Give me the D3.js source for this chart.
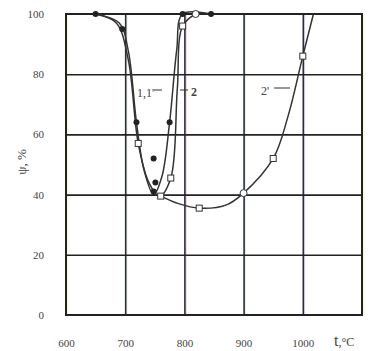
<!DOCTYPE html>
<html>
<head>
<meta charset="utf-8">
<script src="https://cdn.jsdelivr.net/npm/d3@7"></script>
<style>
  body { margin: 0; background: #fff; }
  svg text { font-family: "Liberation Serif", serif; fill: #444; }
</style>
</head>
<body>
<div id="chart"></div>
<script>
// tick values
var xTicks = [600, 700, 800, 900, 1000];
var yTicks = [0, 20, 40, 60, 80, 100];

// curve 1,1' (filled circles)
var line1 = [[650, 100], [690, 97], [705, 88], [719, 64], [732, 48], [748, 40], [762, 46], [775, 64], [787, 88], [797, 100], [845, 100]];
var dots1 = [[650, 100], [695, 95], [719, 64], [748, 52], [751, 44], [748, 41], [775, 64], [797, 100], [845, 100]];

// curve 2 (open squares)
var line2 = [[650, 100], [685, 97], [705, 85], [722, 57], [740, 44], [758, 39.5], [777, 45.5], [788, 75], [797, 96], [819, 100]];
var sq2 = [[722, 57], [760, 39.5], [777, 45.5], [797, 96]];
var ring2 = [[819, 100]];

// curve 2'
var line2p = [[755, 40], [790, 37], [825, 35.5], [870, 36.5], [900, 40.5], [950, 52], [975, 66], [1000, 86], [1018, 100]];
var sq2p = [[825, 35.5], [950, 52], [1000, 86]];
var ring2p = [[900, 40.5]];

var svgWidth = 376, svgHeight = 351;
var plot = {left: 66, right: 362, top: 14, bottom: 315};

var svg = d3.select("#chart").append("svg")
  .attr("width", svgWidth)
  .attr("height", svgHeight);

var x = d3.scaleLinear().domain([600, 1100]).range([plot.left, plot.right]);
var y = d3.scaleLinear().domain([0, 100]).range([plot.bottom, plot.top]);

// faint scan fringes beside the vertical lines
var fringe = ["#e8d84a", "#9ad85a", "#d85a6a", "#7ad8c8", "#6a7ae8"];
svg.selectAll(".fringe")
  .data([600, 700, 800, 900, 1000, 1100])
  .enter()
  .append("line")
  .attr("class", "fringe")
  .attr("x1", d => x(d) + 1.8).attr("x2", d => x(d) + 1.8)
  .attr("y1", plot.top).attr("y2", plot.bottom)
  .attr("stroke", (d, i) => fringe[i % fringe.length])
  .attr("stroke-opacity", 0.3)
  .attr("stroke-width", 1);

// grid lines
svg.append("g")
  .attr("transform", `translate(0, ${plot.bottom})`)
  .call(d3.axisBottom(x).tickValues([700, 800, 900, 1000]).tickSize(-(plot.bottom - plot.top)).tickFormat(""))
  .call(g => g.select(".domain").remove())
  .call(g => g.selectAll("line").attr("stroke", "#2b2b3a").attr("stroke-width", 1.6));

svg.append("g")
  .attr("transform", `translate(${plot.left}, 0)`)
  .call(d3.axisLeft(y).tickValues([20, 40, 60, 80]).tickSize(-(plot.right - plot.left)).tickFormat(""))
  .call(g => g.select(".domain").remove())
  .call(g => g.selectAll("line").attr("stroke", "#222").attr("stroke-width", 1.6));

// frame
svg.append("rect")
  .attr("x", plot.left).attr("y", plot.top)
  .attr("width", plot.right - plot.left).attr("height", plot.bottom - plot.top)
  .attr("fill", "none")
  .attr("stroke", "#222")
  .attr("stroke-width", 2);

// tick labels
svg.append("g")
  .attr("transform", `translate(0, ${plot.bottom})`)
  .call(d3.axisBottom(x).tickValues(xTicks).tickSize(0).tickPadding(24).tickFormat(d3.format("d")))
  .call(g => g.select(".domain").remove())
  .call(g => g.selectAll("text").attr("font-size", 11).attr("font-family", "Liberation Serif").attr("fill", "#444"));

svg.append("g")
  .attr("transform", `translate(${plot.left}, 0)`)
  .call(d3.axisLeft(y).tickValues(yTicks).tickSize(0).tickPadding(22))
  .call(g => g.select(".domain").remove())
  .call(g => g.selectAll("text").attr("font-size", 11).attr("font-family", "Liberation Serif").attr("fill", "#444"));

// axis titles
svg.append("text")
  .attr("transform", "translate(26, 162) rotate(-90)")
  .attr("text-anchor", "middle")
  .attr("font-size", 13)
  .text("ψ, %");

var xt = svg.append("text")
  .attr("x", 334).attr("y", 346);
xt.append("tspan").attr("font-size", 16).text("t");
xt.append("tspan").attr("font-size", 12).text(",°C");

// curves
var line = d3.line()
  .x(d => x(d[0]))
  .y(d => y(d[1]))
  .curve(d3.curveCatmullRom.alpha(0.5));

[line1, line2, line2p].forEach(function(pts) {
  svg.append("path")
    .datum(pts)
    .attr("d", line)
    .attr("fill", "none")
    .attr("stroke", "#333")
    .attr("stroke-width", 1.5);
});

// markers
svg.selectAll(".dot")
  .data(dots1)
  .enter()
  .append("circle")
  .attr("class", "dot")
  .attr("cx", d => x(d[0]))
  .attr("cy", d => y(d[1]))
  .attr("r", 3)
  .attr("fill", "#222");

svg.selectAll(".sq")
  .data(sq2.concat(sq2p))
  .enter()
  .append("rect")
  .attr("class", "sq")
  .attr("x", d => x(d[0]) - 3)
  .attr("y", d => y(d[1]) - 3)
  .attr("width", 6).attr("height", 6)
  .attr("fill", "#fff")
  .attr("stroke", "#333")
  .attr("stroke-width", 1);

svg.selectAll(".ring")
  .data(ring2.concat(ring2p))
  .enter()
  .append("circle")
  .attr("class", "ring")
  .attr("cx", d => x(d[0]))
  .attr("cy", d => y(d[1]))
  .attr("r", 3.5)
  .attr("fill", "#fff")
  .attr("stroke", "#333")
  .attr("stroke-width", 1);

// curve labels
svg.append("text").attr("x", 137).attr("y", 97).attr("font-size", 12).text("1,1'");
svg.append("line").attr("x1", 154).attr("x2", 162).attr("y1", 90).attr("y2", 90).attr("stroke", "#333");
svg.append("line").attr("x1", 180).attr("x2", 188).attr("y1", 90).attr("y2", 90).attr("stroke", "#333");
svg.append("text").attr("x", 191).attr("y", 96).attr("font-size", 12).attr("font-weight", "bold").attr("font-family", "Liberation Sans").text("2");
svg.append("text").attr("x", 261).attr("y", 95).attr("font-size", 12).text("2'");
svg.append("line").attr("x1", 274).attr("x2", 290).attr("y1", 88).attr("y2", 88).attr("stroke", "#333");
</script>
</body>
</html>
